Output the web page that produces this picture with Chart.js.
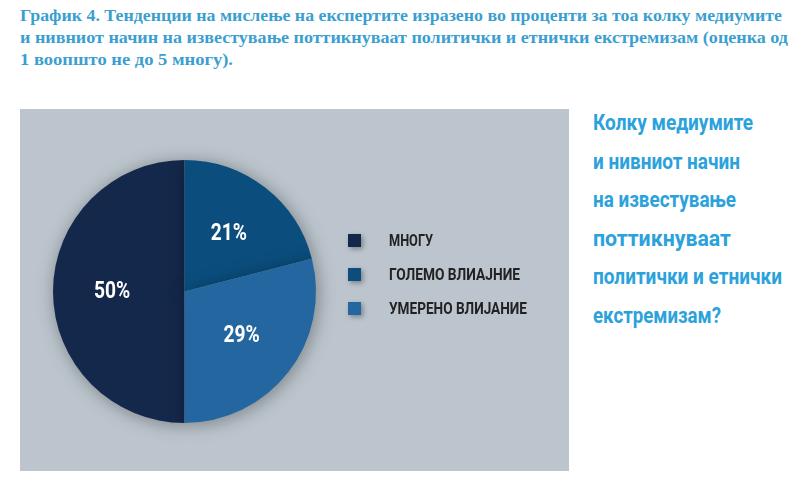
<!DOCTYPE html>
<html>
<head>
<meta charset="utf-8">
<script src="https://cdn.jsdelivr.net/npm/chart.js@4.4.0/dist/chart.umd.min.js"></script>
<style>
    body { margin: 0; width: 805px; height: 480px; overflow: hidden; position: relative; background: #fff; }
    .fit { position: absolute; white-space: nowrap; transform-origin: 0 50%; }
    .naslov { font-family: 'Liberation Serif', serif; font-weight: bold; font-size: 17px; line-height: 20px; color: #3a9fd0; }
    .prasanje { font-family: Roboto, sans-serif; font-weight: bold; font-size: 22px; line-height: 24px; color: #2ba2dc; }
    .legenda { font-family: Roboto, sans-serif; font-weight: bold; font-size: 17px; line-height: 18px; color: #222; }
    .kvadrat { position: absolute; width: 13px; height: 13px; box-shadow: 2px 2px 5px rgba(0,0,0,0.35); }
    #panel { position: absolute; left: 20px; top: 109px; width: 549px; height: 362px; background: #bcc5cd; }
    #graf-wrap { position: absolute; left: 0; top: 0; width: 549px; height: 362px; }
</style>
</head>
<body>
<div id="naslov"></div>
<div id="panel">
    <div id="graf-wrap"><canvas id="grafikPita"></canvas></div>
    <div id="legenda"></div>
</div>
<div id="prasanje"></div>

<script>
// податоци
const kategorii = ['МНОГУ', 'ГОЛЕМО ВЛИАЈНИЕ', 'УМЕРЕНО ВЛИЈАНИЕ'];
const procenti  = [50, 21, 29];
const boi       = ['#14284b', '#0b4e7e', '#2467a0'];

const naslovRedovi = [
    'График 4. Тенденции на мислење на експертите изразено во проценти за тоа колку медиумите',
    'и нивниот начин на известување поттикнуваат политички и етнички екстремизам (оценка од',
    '1 воопшто не до 5 многу).'
];
const prasanjeRedovi = [
    'Колку медиумите',
    'и нивниот начин',
    'на известување',
    'поттикнуваат',
    'политички и етнички',
    'екстремизам?'
];

// ширини од сликата (за збиениот фонт)
const naslovSirini   = [762, 768, 213];
const prasanjeSirini = [160, 147, 143, 138, 189, 128];
const legendaSirini  = [44, 131, 138];

function napraviTekst(parent, cls, tekst, x, y, sirina) {
    const el = document.createElement('div');
    el.className = 'fit ' + cls;
    el.style.left = x + 'px';
    el.style.top  = y + 'px';
    el.dataset.w  = sirina;
    el.innerText  = tekst;
    parent.appendChild(el);
    return el;
}

const naslov = document.getElementById('naslov');
naslovRedovi.forEach((r, i) => napraviTekst(naslov, 'naslov', r, 20, 6 + i * 22, naslovSirini[i]));

const prasanje = document.getElementById('prasanje');
prasanjeRedovi.forEach((r, i) => napraviTekst(prasanje, 'prasanje', r, 593, 111 + i * 38.6, prasanjeSirini[i]));

const legenda = document.getElementById('legenda');
kategorii.forEach((k, i) => {
    const y = 131 + i * 34;   // центар на редот во панелот
    const kv = document.createElement('div');
    kv.className = 'kvadrat';
    kv.style.left = '328px';
    kv.style.top  = (y - 6) + 'px';
    kv.style.background = boi[i];
    legenda.appendChild(kv);
    napraviTekst(legenda, 'legenda', k, 369, y - 9, legendaSirini[i]);
});

// збиј го текстот до ширината од оригиналот
document.querySelectorAll('.fit').forEach(el => {
    const w = el.getBoundingClientRect().width;
    el.style.transform = `scaleX(${el.dataset.w / w})`;
});

// сенка под питата
const senkaPlugin = {
    id: 'senka',
    beforeDatasetsDraw(chart) {
        const ctx = chart.ctx;
        ctx.save();
        ctx.shadowColor = 'rgba(0,0,0,0.35)';
        ctx.shadowBlur = 18;
        ctx.shadowOffsetX = 2;
        ctx.shadowOffsetY = 2;
    },
    afterDatasetsDraw(chart) {
        chart.ctx.restore();
    }
};

// проценти во парчињата
const procentiPlugin = {
    id: 'procentiLabeli',
    afterDatasetsDraw(chart) {
        const ctx = chart.ctx;
        const meta = chart.getDatasetMeta(0);
        meta.data.forEach((arc, i) => {
            const p = arc.getProps(['x', 'y', 'startAngle', 'endAngle', 'outerRadius'], true);
            const sredina = (p.startAngle + p.endAngle) / 2;
            const r = p.outerRadius * 0.55;
            const x = p.x + Math.cos(sredina) * r;
            const y = p.y + Math.sin(sredina) * r;
            ctx.save();
            ctx.translate(x, y);
            ctx.scale(0.8, 1);
            ctx.font = 'bold 24px Roboto, sans-serif';
            ctx.fillStyle = '#ffffff';
            ctx.textAlign = 'center';
            ctx.textBaseline = 'middle';
            ctx.fillText(procenti[i] + '%', 0, 0);
            ctx.restore();
        });
    }
};

new Chart(document.getElementById('grafikPita').getContext('2d'), {
    type: 'pie',
    data: {
        labels: kategorii,
        datasets: [{
            data: procenti,
            backgroundColor: boi,
            borderWidth: 0,
            hoverOffset: 0,
            offset: 0
        }]
    },
    options: {
        responsive: true,
        maintainAspectRatio: false,
        animation: false,
        rotation: 180,
        layout: { padding: { left: 33, right: 253, top: 51, bottom: 48 } },
        plugins: {
            legend: { display: false },
            tooltip: { enabled: false }
        }
    },
    plugins: [senkaPlugin, procentiPlugin]
});
</script>
</body>
</html>
